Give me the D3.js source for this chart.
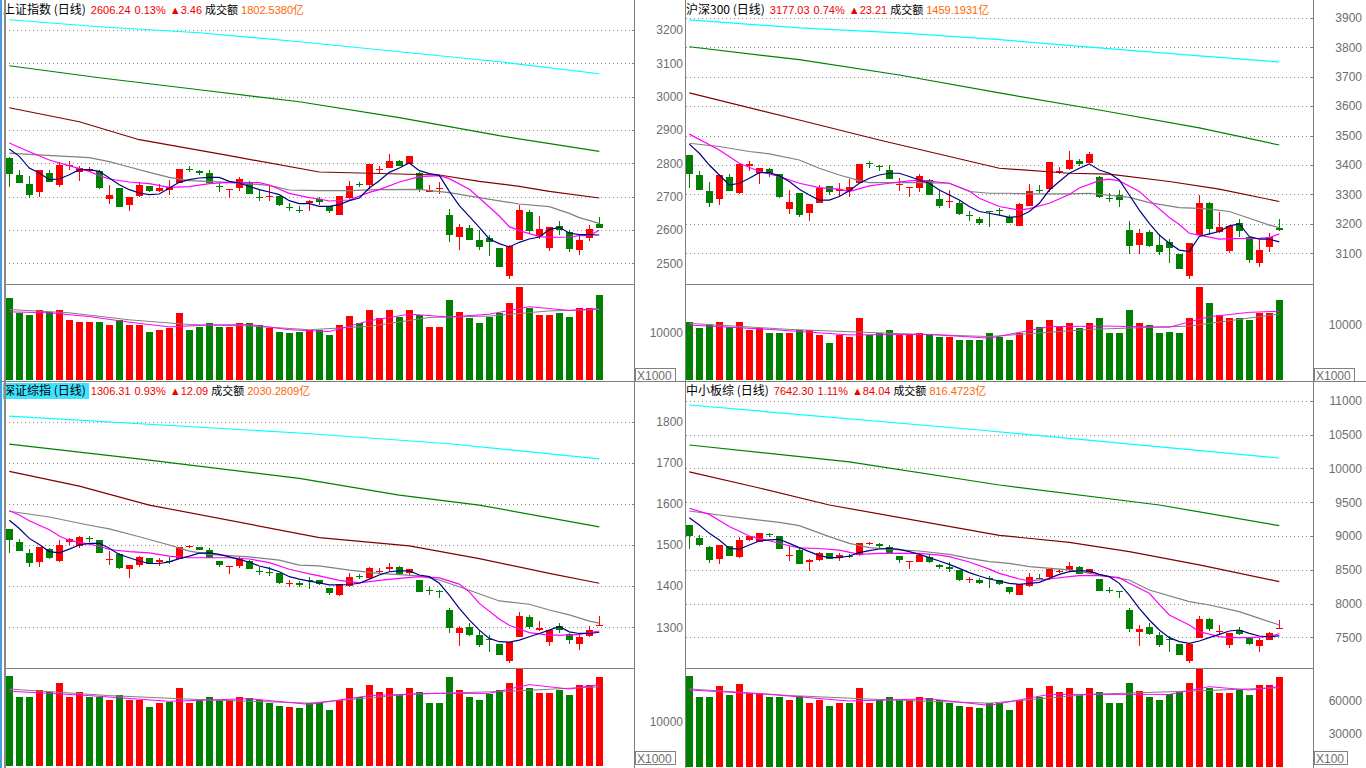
<!DOCTYPE html>
<html><head><meta charset="utf-8">
<script src="https://cdn.jsdelivr.net/npm/d3@7"></script>
<style>
html,body{margin:0;padding:0;background:#fff;overflow:hidden}
svg{display:block}
</style></head><body>
<svg id="c" width="1366" height="768"></svg>
<script>
const N = 60;
// ---------------- 上证指数 ----------------
const tlHeader = ["上证指数 (日线)", "2606.24", "0.13%", "▲3.46", "成交额", "1802.5380亿"];
const tlTicks = [2500, 2600, 2700, 2800, 2900, 3000, 3100, 3200];
const tlVolTicks = [10000];
const tlOpen = [2817,2766,2739,2715,2772,2734,2793,2774,2779,2777,2695,2727,2677,2703,2733,2719,2719,2741,2784,2778,2772,2732,2720,2725,2740,2700,2701,2701,2669,2660,2683,2693,2671,2647,2698,2738,2736,2781,2788,2808,2799,2770,2715,2722,2646,2578,2607,2571,2577,2547,2464,2569,2655,2583,2545,2613,2595,2541,2575,2618];
const tlHigh = [2820,2781,2763,2781,2781,2805,2807,2793,2789,2781,2736,2727,2700,2743,2733,2738,2751,2784,2793,2781,2781,2743,2723,2760,2746,2719,2731,2703,2681,2671,2690,2699,2673,2703,2748,2745,2799,2793,2829,2811,2823,2774,2735,2745,2664,2619,2615,2601,2585,2547,2555,2675,2659,2641,2608,2627,2600,2587,2615,2639];
const tlLow = [2728,2741,2695,2698,2743,2728,2779,2746,2775,2723,2678,2668,2656,2699,2713,2713,2706,2741,2773,2765,2741,2713,2695,2716,2707,2686,2686,2671,2656,2651,2656,2676,2650,2647,2694,2728,2723,2771,2786,2791,2799,2713,2713,2708,2563,2539,2569,2539,2521,2488,2453,2569,2592,2573,2536,2584,2533,2524,2568,2606];
const tlClose = [2770,2743,2707,2781,2745,2795,2795,2786,2784,2725,2706,2671,2700,2736,2718,2727,2729,2784,2782,2773,2743,2730,2723,2753,2707,2698,2703,2674,2667,2658,2688,2684,2656,2703,2733,2736,2799,2783,2808,2794,2823,2719,2721,2726,2587,2609,2571,2551,2566,2490,2553,2659,2598,2603,2608,2602,2545,2571,2603,2606];
const tlVol = [17450,14250,13830,14890,14470,14890,12770,12340,12340,12340,11700,12770,11700,11700,10210,10640,11060,14250,10640,11280,12130,11280,11280,12130,12130,11700,11060,10210,10000,10210,10640,10640,9570,11700,13620,12130,14890,13190,14890,13400,14890,13830,11280,11280,17020,14470,13190,12130,13400,14250,16380,19790,15320,13830,13830,14250,13400,15320,15320,18090];
const tlMA5 = [2843,2821,2786,2771,2751,2753,2766,2781,2781,2776,2756,2736,2721,2711,2706,2708,2726,2743,2751,2756,2758,2758,2746,2741,2731,2721,2714,2706,2688,2679,2679,2671,2671,2676,2688,2696,2726,2748,2773,2786,2801,2778,2769,2764,2716,2673,2641,2608,2573,2559,2549,2563,2573,2579,2601,2608,2591,2586,2586,2585];
const tlMA10 = [[0,2861],[2,2835],[4,2810],[7,2784],[8,2776],[9,2763],[10,2753],[12,2744],[14,2739],[16,2728],[18,2730],[20,2739],[22,2743],[25,2742],[26,2735],[28,2710],[30,2697],[31,2693],[32,2687],[34,2690],[36,2713],[37,2721],[39,2744],[41,2760],[43,2763],[44,2754],[46,2722],[47,2696],[49,2642],[50,2610],[51,2598],[53,2580],[54,2578],[56,2579],[57,2583],[58,2584],[59,2599]];
const tlMA20 = [[0,2831],[2,2827],[8,2817],[10,2805],[12,2789],[14,2773],[16,2758],[18,2748],[22,2743],[26,2734],[28,2720],[31,2718],[34,2718],[37,2721],[41,2722],[44,2712],[47,2697],[51,2678],[54,2670],[56,2650],[57,2637],[59,2620]];
const tlMA60 = [[0,2967],[7,2925],[13,2871],[22,2823],[31,2774],[43,2765],[47,2746],[51,2731],[54,2716],[59,2696]];
const tlMA120 = [[0,3093],[9,3057],[19,3021],[29,2985],[39,2937],[49,2883],[59,2836]];
const tlMA250 = [[0,3231],[9,3210],[19,3192],[29,3165],[39,3135],[49,3105],[59,3069]];
const tlVolMA5 = [[0,14500],[4,14300],[8,13500],[12,12300],[16,11300],[20,11700],[24,11800],[28,10700],[32,10300],[36,12600],[40,14000],[44,13400],[48,14000],[52,15600],[56,14800],[59,15200]];
const tlVolMA10 = [[0,15000],[6,14300],[12,12800],[18,11800],[24,11500],[30,10700],[36,11400],[42,13300],[48,13600],[54,14700],[59,15000]];

// ---------------- 沪深300 ----------------
const trHeader = ["沪深300 (日线)", "3177.03", "0.74%", "▲23.21", "成交额", "1459.1931亿"];
const trTicks = [3100, 3200, 3300, 3400, 3500, 3600, 3700, 3800, 3900];
const trVolTicks = [10000];
const trOpen = [3434,3366,3312,3286,3361,3303,3397,3372,3386,3370,3252,3306,3238,3272,3329,3310,3309,3340,3408,3395,3383,3330,3322,3323,3349,3285,3275,3270,3229,3217,3243,3247,3225,3193,3261,3315,3319,3375,3387,3415,3408,3360,3289,3298,3179,3126,3171,3127,3140,3098,3021,3161,3272,3170,3109,3202,3157,3066,3119,3185];
const trHigh = [3434,3378,3343,3366,3369,3408,3415,3390,3389,3370,3315,3306,3268,3332,3329,3338,3352,3404,3415,3399,3399,3355,3324,3370,3352,3315,3315,3277,3243,3222,3245,3255,3229,3270,3336,3332,3411,3392,3448,3421,3443,3363,3306,3315,3210,3182,3179,3165,3148,3098,3136,3297,3275,3242,3193,3217,3157,3145,3168,3217];
const trLow = [3323,3315,3259,3264,3315,3303,3381,3336,3361,3289,3233,3225,3211,3270,3298,3293,3293,3340,3390,3381,3352,3313,3293,3310,3298,3255,3255,3229,3211,3195,3191,3229,3202,3193,3261,3304,3310,3369,3383,3395,3406,3289,3276,3259,3099,3097,3123,3093,3066,3045,3012,3161,3162,3168,3102,3156,3066,3052,3106,3175];
const trClose = [3371,3315,3272,3366,3315,3403,3404,3390,3372,3293,3275,3231,3268,3323,3309,3318,3324,3404,3404,3390,3352,3334,3324,3363,3298,3262,3278,3231,3226,3205,3239,3244,3204,3268,3312,3311,3411,3379,3417,3404,3438,3293,3286,3281,3126,3168,3125,3102,3120,3046,3134,3270,3183,3188,3193,3174,3080,3111,3154,3177];
const trVol = [10545,9455,10000,10545,9636,10545,9091,9455,8636,8545,8545,9091,9091,8182,6727,8182,7818,11273,8182,8545,9091,8182,8182,8545,8182,7818,7818,7273,7273,7273,8545,7818,7273,8545,10909,9636,10909,9636,10364,9455,10364,11273,8545,8545,12727,10364,10000,8636,8818,8545,11273,16909,14000,11818,11273,11273,10909,12182,12182,14545];
const trMA5 = [3471,3440,3400,3366,3332,3338,3355,3374,3374,3363,3344,3318,3298,3281,3281,3293,3313,3338,3355,3366,3372,3372,3361,3349,3338,3315,3298,3281,3259,3242,3236,3230,3222,3225,3242,3270,3315,3344,3372,3389,3404,3383,3372,3349,3298,3247,3202,3162,3134,3111,3106,3157,3166,3174,3193,3200,3157,3148,3148,3139];
const trMA10 = [[0,3505],[3,3451],[5,3406],[7,3378],[9,3361],[11,3338],[13,3323],[15,3318],[16,3310],[18,3329],[20,3338],[22,3346],[23,3349],[26,3338],[28,3312],[29,3287],[31,3259],[33,3247],[34,3252],[36,3270],[38,3300],[39,3322],[41,3347],[42,3352],[43,3346],[45,3310],[46,3280],[48,3222],[49,3198],[50,3168],[51,3162],[53,3148],[54,3150],[57,3151],[58,3153],[59,3166]];
const trMA20 = [[0,3474],[3,3463],[6,3446],[8,3438],[11,3417],[13,3389],[15,3366],[17,3347],[18,3340],[23,3340],[26,3338],[28,3310],[30,3304],[32,3304],[34,3302],[38,3302],[40,3304],[44,3290],[46,3272],[49,3255],[51,3253],[52,3250],[54,3242],[56,3219],[58,3196],[59,3187]];
const trMA60 = [[0,3645],[11,3553],[19,3485],[31,3389],[38,3372],[42,3369],[48,3344],[53,3318],[59,3276]];
const trMA120 = [[0,3802],[11,3758],[21,3706],[31,3645],[41,3587],[51,3526],[59,3468]];
const trMA250 = [[0,3893],[11,3866],[21,3849],[31,3826],[41,3798],[51,3771],[59,3750]];
const trVolMA5 = [[0,10000],[8,9200],[16,8200],[24,8300],[30,7600],[36,9700],[42,9800],[48,9600],[52,11500],[56,12300],[59,12500]];
const trVolMA10 = [[0,10300],[10,9200],[20,8500],[30,7900],[40,9200],[50,9800],[59,12000]];

// ---------------- 深证综指 ----------------
const blHeader = ["深证综指 (日线)", "1306.31", "0.93%", "▲12.09", "成交额", "2030.2809亿"];
const blTicks = [1300, 1400, 1500, 1600, 1700, 1800];
const blVolTicks = [10000];
const blOpen = [1540,1507,1480,1459,1490,1462,1506,1498,1517,1512,1465,1477,1442,1451,1468,1457,1461,1465,1497,1495,1488,1461,1447,1450,1461,1437,1434,1432,1407,1407,1414,1414,1395,1377,1401,1425,1420,1434,1440,1446,1433,1416,1390,1388,1342,1287,1301,1281,1272,1259,1217,1277,1325,1293,1263,1302,1283,1260,1280,1304.5];
const blHigh = [1540,1514,1490,1495,1493,1512,1517,1522,1522,1512,1485,1481,1451,1473,1468,1469,1471,1495,1501,1495,1493,1461,1449,1471,1463,1447,1447,1432,1416,1412,1422,1416,1395,1404,1433,1429,1447,1443,1456,1449,1442,1416,1398,1391,1348,1303,1311,1291,1281,1259,1265,1336,1330,1315,1293,1310,1285,1281,1303,1328];
const blLow = [1481,1486,1447,1447,1467,1459,1500,1493,1508,1481,1451,1441,1420,1447,1454,1450,1455,1465,1492,1488,1469,1447,1429,1445,1442,1427,1425,1406,1399,1399,1394,1403,1378,1377,1399,1418,1417,1429,1437,1430,1427,1385,1378,1372,1287,1255,1280,1253,1241,1233,1213,1277,1296,1291,1255,1287,1259,1245,1277,1304];
const blClose = [1514,1486,1455,1495,1467,1500,1514,1519,1514,1481,1467,1442,1451,1471,1454,1463,1459,1495,1498,1488,1469,1451,1449,1469,1442,1434,1432,1408,1408,1403,1412,1404,1382,1404,1423,1423,1445,1436,1446,1430,1442,1387,1387,1386,1298,1299,1281,1257,1269,1233,1264,1327,1301,1298,1293,1292,1268,1276,1294,1306.3];
const blVol = [20455,15682,15682,17273,16818,18864,15682,16818,15682,15682,15000,16136,15000,15000,13409,14318,14545,17727,14318,15000,15682,15000,15000,15682,15455,15000,14318,13636,13409,13182,14318,14318,12727,15000,17727,15682,18409,16818,17727,16136,17727,16818,14318,14318,20227,17273,15682,15000,16364,17273,18864,22273,17727,16591,16591,17273,16136,18409,18409,20227];
const blMA5 = [1560,1540,1516,1501,1484,1481,1490,1500,1504,1504,1492,1477,1469,1461,1455,1455,1459,1467,1473,1480,1481,1477,1471,1465,1458,1449,1443,1435,1423,1417,1412,1408,1403,1403,1404,1407,1417,1427,1435,1437,1437,1427,1423,1407,1378,1346,1318,1293,1273,1265,1264,1269,1277,1285,1293,1302,1289,1285,1285,1288];
const blMA10 = [[0,1583],[1,1573],[2,1559],[4,1537],[5,1522],[6,1511],[8,1502],[9,1497],[10,1489],[12,1484],[14,1481],[16,1473],[18,1469],[20,1469],[22,1469],[24,1466],[26,1457],[28,1441],[30,1430],[31,1425],[33,1414],[35,1408],[37,1414],[39,1419],[41,1423],[43,1420],[45,1405],[46,1386],[47,1358],[49,1320],[50,1305],[51,1296],[52,1287],[54,1281],[56,1281],[57,1283],[59,1291]];
const blMA20 = [[0,1582],[4,1568],[8,1548],[10,1539],[13,1520],[16,1500],[18,1485],[20,1477],[24,1471],[27,1463],[29,1451],[31,1449],[34,1439],[37,1431],[41,1425],[43,1415],[46,1390],[49,1364],[52,1356],[54,1342],[56,1330],[58,1315],[59,1310]];
const blMA60 = [[0,1679],[7,1643],[14,1597],[31,1518],[40,1498],[47,1467],[54,1431],[59,1407]];
const blMA120 = [[0,1745],[14,1706],[29,1662],[39,1621],[47,1597],[59,1544]];
const blMA250 = [[0,1813],[29,1772],[44,1746],[59,1709]];
const blVolMA5 = [[0,17000],[8,16000],[16,14700],[24,15300],[30,14000],[36,16000],[42,16500],[48,16500],[52,18500],[56,17500],[59,18500]];
const blVolMA10 = [[0,17500],[10,16000],[20,15000],[30,14300],[40,16300],[50,17000],[59,18000]];

// ---------------- 中小板综 ----------------
const brHeader = ["中小板综 (日线)", "7642.30", "1.11%", "▲84.04", "成交额", "816.4723亿"];
const brTicks = [7500, 8000, 8500, 9000, 9500, 10000, 10500, 11000];
const brVolTicks = [30000, 60000];
const brOpen = [9163,8965,8837,8659,8852,8694,8946,8916,9025,9000,8714,8793,8605,8654,8743,8669,8709,8709,8886,8881,8837,8704,8620,8620,8684,8571,8546,8492,8349,8349,8373,8353,8245,8126,8260,8383,8398,8477,8497,8546,8447,8363,8195,8186,7904,7569,7648,7534,7480,7396,7149,7485,7771,7584,7386,7608,7500,7376,7460,7628];
const brHigh = [9163,9015,8857,8867,8852,8990,9000,9044,9039,9000,8857,8817,8654,8768,8743,8748,8733,8901,8911,8901,8867,8704,8630,8738,8719,8590,8620,8492,8388,8373,8408,8353,8245,8284,8447,8437,8511,8506,8620,8556,8511,8363,8250,8186,7929,7682,7717,7574,7524,7396,7411,7816,7781,7682,7569,7648,7510,7485,7584,7756];
const brLow = [8812,8857,8605,8585,8704,8669,8931,8906,8980,8812,8635,8580,8487,8635,8659,8635,8669,8709,8872,8817,8728,8605,8511,8620,8605,8506,8472,8334,8299,8284,8235,8274,8146,8126,8250,8363,8349,8447,8487,8437,8437,8190,8151,8087,7584,7376,7534,7361,7287,7238,7125,7485,7593,7534,7337,7534,7386,7287,7460,7628];
const brClose = [9000,8857,8650,8867,8704,8941,9000,9044,9010,8812,8724,8585,8640,8753,8659,8719,8694,8891,8896,8852,8753,8650,8630,8719,8605,8536,8521,8349,8368,8309,8358,8289,8176,8284,8398,8368,8511,8487,8556,8437,8511,8190,8181,8171,7618,7618,7544,7386,7460,7238,7396,7766,7623,7598,7559,7554,7401,7460,7558,7642];
const brVol = [82727,63636,63636,73636,65455,75455,67273,67273,63636,63636,60909,64545,58182,60909,55455,58182,58182,71818,58182,60909,63636,60909,60909,63636,62727,60909,58182,55455,54545,53636,58182,58182,51818,60909,71818,63636,73636,68182,71818,65455,71818,68182,58182,58182,76364,69091,63636,60909,66364,68182,76364,90000,71818,67273,67273,70000,65455,74545,74545,81818];
const brMA5 = [9271,9163,9039,8941,8817,8807,8867,8926,8941,8951,8891,8827,8768,8709,8679,8679,8704,8753,8783,8807,8817,8803,8768,8728,8679,8630,8580,8521,8457,8408,8363,8334,8299,8284,8299,8314,8373,8432,8472,8482,8482,8432,8398,8299,8126,7929,7756,7608,7495,7436,7411,7445,7495,7544,7593,7608,7559,7519,7508,7520];
const brMA10 = [[0,9410],[2,9320],[3,9230],[4,9140],[6,9000],[7,8960],[8,8930],[10,8855],[11,8825],[13,8815],[15,8790],[17,8728],[19,8743],[21,8743],[23,8743],[25,8718],[26,8694],[28,8615],[30,8510],[31,8447],[33,8363],[34,8334],[36,8363],[38,8398],[39,8413],[41,8413],[43,8383],[44,8299],[46,8151],[47,7988],[48,7830],[50,7682],[51,7584],[53,7510],[54,7495],[56,7495],[58,7510],[59,7552]];
const brMA20 = [[0,9370],[3,9311],[6,9252],[9,9202],[11,9153],[14,8990],[16,8891],[18,8827],[21,8793],[23,8778],[26,8728],[28,8669],[30,8620],[32,8595],[34,8546],[38,8497],[41,8423],[44,8349],[46,8200],[50,8028],[52,7978],[55,7880],[57,7781],[59,7682]];
const brMA60 = [[0,9948],[7,9710],[14,9459],[31,9010],[38,8906],[44,8768],[51,8571],[59,8324]];
const brMA120 = [[0,10347],[16,10096],[31,9755],[47,9459],[59,9153]];
const brMA250 = [[0,10939],[29,10569],[59,10155]];
const brVolMA5 = [[0,70000],[8,66000],[16,60000],[24,62000],[30,56000],[36,66000],[42,66000],[48,66000],[52,73000],[56,70000],[59,73000]];
const brVolMA10 = [[0,71000],[10,65000],[20,61000],[30,58000],[40,66000],[50,69000],[59,72000]];

// ---------------- layout ----------------
const LEFT = {left:5, right:634, cx0:9.3, labelX:683, axisX:634.5, unitX:635, hx:3};
const RIGHT = {left:686, right:1313, cx0:689.3, labelX:1362, axisX:1313.5, unitX:1314, hx:686};
const panels = [
  {H:tlHeader, T:tlTicks, VT:tlVolTicks, O:tlOpen, Hi:tlHigh, Lo:tlLow, C:tlClose, V:tlVol,
   MA:[tlMA250,tlMA120,tlMA60,tlMA20,tlMA10,tlMA5.map((v,i)=>[i,v])], VMA:[tlVolMA10,tlVolMA5],
   pos:LEFT, dom:[2500,3200], rng:[263.3,30.1], vBase:380, vRefY:333, vRefV:10000, sepY:284.5, top:0,
   unit:"X1000", unitW:40},
  {H:trHeader, T:trTicks, VT:trVolTicks, O:trOpen, Hi:trHigh, Lo:trLow, C:trClose, V:trVol,
   MA:[trMA250,trMA120,trMA60,trMA20,trMA10,trMA5.map((v,i)=>[i,v])], VMA:[trVolMA10,trVolMA5],
   pos:RIGHT, dom:[3100,3900], rng:[253.3,17.9], vBase:380, vRefY:325, vRefV:10000, sepY:284.5, top:0,
   unit:"X1000", unitW:40},
  {H:blHeader, T:blTicks, VT:blVolTicks, O:blOpen, Hi:blHigh, Lo:blLow, C:blClose, V:blVol,
   MA:[blMA250,blMA120,blMA60,blMA20,blMA10,blMA5.map((v,i)=>[i,v])], VMA:[blVolMA10,blVolMA5],
   pos:LEFT, dom:[1300,1800], rng:[627.3,421.5], vBase:766, vRefY:722, vRefV:10000, sepY:668.5, top:381,
   unit:"X1000", unitW:40, highlight:true},
  {H:brHeader, T:brTicks, VT:brVolTicks, O:brOpen, Hi:brHigh, Lo:brLow, C:brClose, V:brVol,
   MA:[brMA250,brMA120,brMA60,brMA20,brMA10,brMA5.map((v,i)=>[i,v])], VMA:[brVolMA10,brVolMA5],
   pos:RIGHT, dom:[7500,11000], rng:[637.3,400.9], vBase:767, vRefY:734, vRefV:30000, sepY:668.5, top:381,
   unit:"X100", unitW:33}
];
const maColors = ["#00ffff","#008000","#800000","#808080","#ff00ff","#000080"];
const volMaColors = ["#808080","#ff00ff"];
const headerColors = ["#000","#f00000","#f00000","#f00000","#000","#ff6600"];
const headerFonts = ["'Noto Sans CJK SC', sans-serif", "'Liberation Sans', Arial, sans-serif", "'Liberation Sans', Arial, sans-serif",
  "'Liberation Sans', Arial, sans-serif", "'Noto Sans CJK SC', sans-serif", "'Liberation Sans', Arial, 'Noto Sans CJK SC', sans-serif"];
const headerSizes = [12, 11, 11, 11, 11, 11];
const headerGaps = [0, 5, 4, 4, 3, 3];
const UP = "#ff0000", DOWN = "#008000";

const svg = d3.select("#c");
svg.append("rect").attr("width",1366).attr("height",768).attr("fill","#fff");

panels.forEach(p => {
  const P = p.pos;
  const g = svg.append("g");
  const x = d3.scaleLinear().domain([0, N-1]).range([P.cx0, P.cx0 + 10*(N-1)]);
  const y = d3.scaleLinear().domain(p.dom).range(p.rng);
  const yv = d3.scaleLinear().domain([0, p.vRefV]).range([p.vBase, p.vRefY]);
  const idx = d3.range(N);
  const cx = i => Math.round(x(i));

  // gridlines
  g.selectAll(".grid").data(p.T).join("line")
    .attr("x1", P.left).attr("x2", P.right)
    .attr("y1", d => Math.round(y(d)) + 0.5).attr("y2", d => Math.round(y(d)) + 0.5)
    .attr("stroke", "#8c8c8c").attr("stroke-dasharray", "1,3").attr("shape-rendering","crispEdges");

  // axis labels
  g.selectAll(".lab").data(p.T).join("text")
    .attr("x", P.labelX).attr("y", d => y(d)).attr("dy", "0.36em")
    .attr("text-anchor", "end").attr("font-family", "'Liberation Sans', Arial, sans-serif")
    .attr("font-size", 12).attr("fill", "#6e6e6e").text(d => d);
  g.selectAll(".tk").data(p.T).join("line")
    .attr("x1", P.axisX - 3).attr("x2", P.axisX)
    .attr("y1", d => Math.round(y(d)) + 0.5).attr("y2", d => Math.round(y(d)) + 0.5)
    .attr("stroke", "#808080").attr("shape-rendering","crispEdges");
  g.selectAll(".vlab").data(p.VT).join("text")
    .attr("x", P.labelX).attr("y", d => yv(d)).attr("dy", "0.36em")
    .attr("text-anchor", "end").attr("font-family", "'Liberation Sans', Arial, sans-serif")
    .attr("font-size", 12).attr("fill", "#6e6e6e").text(d => d);

  // candles
  const col = i => p.C[i] >= p.O[i] ? UP : DOWN;
  g.selectAll(".wick").data(idx).join("line")
    .attr("x1", i => cx(i) + 0.5).attr("x2", i => cx(i) + 0.5)
    .attr("y1", i => y(p.Hi[i])).attr("y2", i => y(p.Lo[i]))
    .attr("stroke", col).attr("stroke-width", 1).attr("shape-rendering","crispEdges");
  g.selectAll(".body").data(idx).join("rect")
    .attr("x", i => cx(i) - 3).attr("width", 7)
    .attr("y", i => Math.round(y(Math.max(p.O[i], p.C[i]))))
    .attr("height", i => Math.max(1, Math.round(Math.abs(y(p.O[i]) - y(p.C[i])))))
    .attr("fill", col).attr("shape-rendering","crispEdges");

  // volume bars
  g.selectAll(".vol").data(idx).join("rect")
    .attr("x", i => cx(i) - 3).attr("width", 7)
    .attr("y", i => Math.round(yv(p.V[i])))
    .attr("height", i => p.vBase - Math.round(yv(p.V[i])))
    .attr("fill", col).attr("shape-rendering","crispEdges");

  // MA lines
  const line = d3.line().x(d => x(d[0])).y(d => y(d[1]));
  p.MA.forEach((arr, k) => {
    g.append("path").attr("d", line(arr)).attr("fill", "none")
      .attr("stroke", maColors[k]).attr("stroke-width", 1.2);
  });
  const vline = d3.line().x(d => x(d[0])).y(d => yv(d[1]));
  p.VMA.forEach((arr, k) => {
    g.append("path").attr("d", vline(arr)).attr("fill", "none")
      .attr("stroke", volMaColors[k]).attr("stroke-width", 1);
  });

  // separator between price and volume
  g.append("line").attr("x1", P.left).attr("x2", P.right + 1)
    .attr("y1", p.sepY).attr("y2", p.sepY).attr("stroke", "#808080");

  // header (flowing tspans so segments never overlap)
  if (p.highlight) {
    g.append("rect").attr("x", 3).attr("y", p.top + 2).attr("width", 86).attr("height", 16).attr("fill", "#3fe3ff");
  }
  const ht = g.append("text").attr("x", P.hx).attr("y", p.top + 14);
  p.H.forEach((t, k) => {
    ht.append("tspan").attr("dx", headerGaps[k])
      .attr("font-family", headerFonts[k]).attr("font-size", headerSizes[k])
      .attr("fill", headerColors[k]).text(t);
  });

  // unit box
  const uy = p.top === 0 ? 368 : 751;
  g.append("rect").attr("x", P.unitX + 0.5).attr("y", uy + 0.5).attr("width", p.unitW).attr("height", 13)
    .attr("fill", "#fff").attr("stroke", "#808080");
  g.append("text").attr("x", P.unitX + 2).attr("y", uy + 11.5)
    .attr("font-family", "'Liberation Sans', Arial, sans-serif").attr("font-size", 12)
    .attr("fill", "#6e6e6e").text(p.unit);
});

// frame lines
const frame = svg.append("g").attr("shape-rendering","crispEdges");
frame.append("rect").attr("x", 0).attr("y", 0).attr("width", 2).attr("height", 768).attr("fill", "#4b9be3");
frame.append("rect").attr("x", 4).attr("y", 0).attr("width", 2).attr("height", 768).attr("fill", "#8a8a8a");
[634.5, 685.5, 1313.5].forEach(xx => frame.append("line").attr("x1", xx).attr("x2", xx).attr("y1", 0).attr("y2", 768).attr("stroke", "#808080"));
frame.append("line").attr("x1", 0).attr("x2", 1366).attr("y1", 381.5).attr("y2", 381.5).attr("stroke", "#808080");
</script></body></html>
